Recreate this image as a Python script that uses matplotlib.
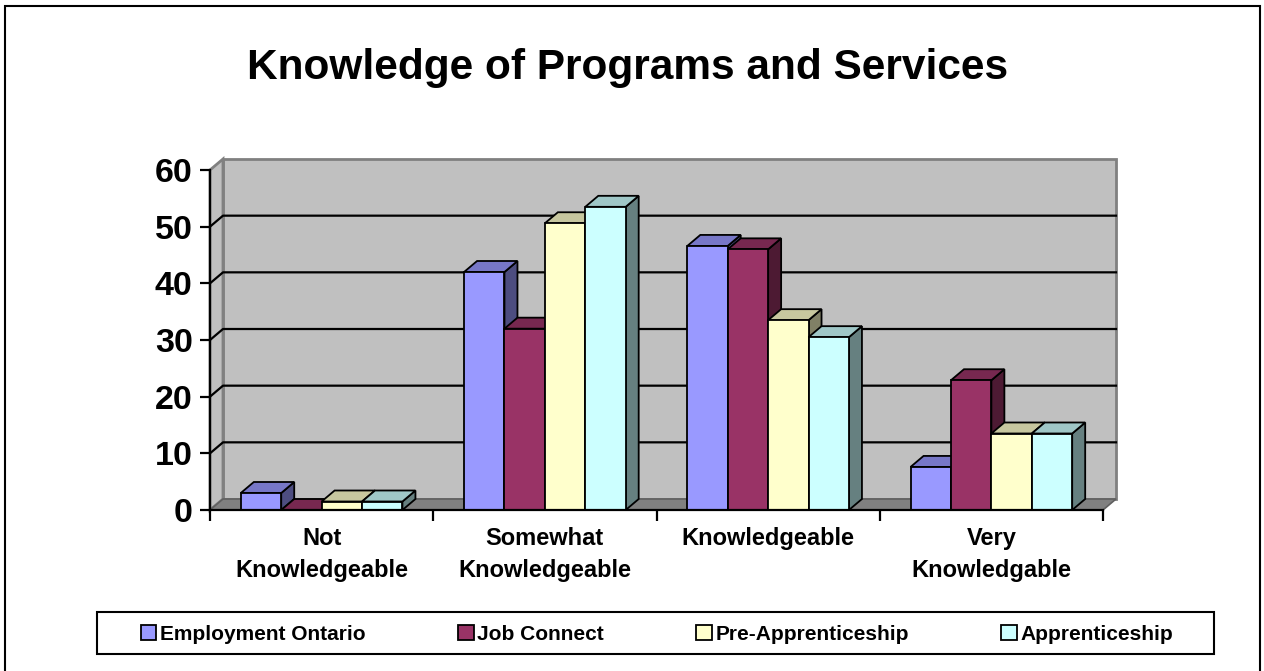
import matplotlib.pyplot as plt
from matplotlib.patches import Polygon, Rectangle, Patch
from matplotlib.colors import to_rgb

plt.rcParams['font.family'] = ['Liberation Sans', 'DejaVu Sans']
plt.rcParams['font.weight'] = 'bold'

categories = ['Not\nKnowledgeable', 'Somewhat\nKnowledgeable', 'Knowledgeable', 'Very\nKnowledgable']
series_names = ['Employment Ontario', 'Job Connect', 'Pre-Apprenticeship', 'Apprenticeship']
employment_ontario = [3.0, 42.0, 46.6, 7.6]
job_connect = [0.0, 32.0, 46.0, 22.9]
pre_apprenticeship = [1.5, 50.6, 33.5, 13.5]
apprenticeship = [1.5, 53.5, 30.5, 13.5]
y_ticks = [0, 10, 20, 30, 40, 50, 60]

series = [employment_ontario, job_connect, pre_apprenticeship, apprenticeship]
front_colors = ['#9999FF', '#993366', '#FFFFCC', '#CCFFFF']

W, H = 1264, 671


def shade(c, f):
    r, g, b = to_rgb(c)
    return (r * f, g * f, b * f)


fig = plt.figure(figsize=(W / 100, H / 100), dpi=100)
ax = fig.add_axes([210 / W, 161 / H, 893 / W, 340 / H])
ax.set_xlim(0, len(categories))
ax.set_ylim(0, 60)
ax.patch.set_alpha(0)

# depth of the 3d effect, pixels -> data units
ddx = 13 / (893 / len(categories))
ddy = 11 / (340 / 60)
top = y_ticks[-1]
n = len(categories)

# back wall, side wall, floor
ax.add_patch(Polygon([(ddx, ddy), (n + ddx, ddy), (n + ddx, top + ddy), (ddx, top + ddy)],
                     facecolor='#C0C0C0', edgecolor='#808080', lw=2, clip_on=False, zorder=0))
ax.add_patch(Polygon([(0, 0), (ddx, ddy), (ddx, top + ddy), (0, top)],
                     facecolor='#C0C0C0', edgecolor='#808080', lw=2, clip_on=False, zorder=0))
ax.add_patch(Polygon([(0, 0), (n, 0), (n + ddx, ddy), (ddx, ddy)],
                     facecolor='#808080', edgecolor='#606060', lw=1.2, clip_on=False, zorder=0.5))
for v in y_ticks[1:-1]:
    ax.plot([0, ddx, n + ddx], [v, v + ddy, v + ddy], color='black', lw=1.6, zorder=0.6, clip_on=False)

# bars
bw = 0.181
for i in range(n):
    x_start = i + 0.5 - bw * len(series) / 2
    for j, vals in enumerate(series):
        h = vals[i]
        x0 = x_start + j * bw
        c = front_colors[j]
        ax.add_patch(Polygon([(x0 + bw, 0), (x0 + bw + ddx, ddy), (x0 + bw + ddx, h + ddy), (x0 + bw, h)],
                             facecolor=shade(c, 0.5), edgecolor='black', lw=1.3, clip_on=False, zorder=2))
        ax.add_patch(Polygon([(x0, h), (x0 + bw, h), (x0 + bw + ddx, h + ddy), (x0 + ddx, h + ddy)],
                             facecolor=shade(c, 0.78), edgecolor='black', lw=1.3, clip_on=False, zorder=2))
        ax.add_patch(Rectangle((x0, 0), bw, h, facecolor=c, edgecolor='black', lw=1.3,
                               clip_on=False, zorder=2))

for s in ['top', 'right']:
    ax.spines[s].set_visible(False)
for s in ['left', 'bottom']:
    ax.spines[s].set_linewidth(1.6)
    ax.spines[s].set_zorder(3)

ax.set_yticks(y_ticks)
ax.set_yticklabels([str(v) for v in y_ticks], fontsize=24.5, fontweight='bold')
ax.tick_params(axis='y', length=7, width=1.6, pad=5.5)

ax.set_xticks(range(n + 1))
ax.set_xticklabels([''] * (n + 1))
ax.tick_params(axis='x', which='major', length=8, width=1.6)
ax.set_xticks([i + 0.5 for i in range(n)], minor=True)
ax.set_xticklabels(categories, minor=True, fontsize=17, fontweight='bold', linespacing=1.47)
ax.tick_params(axis='x', which='minor', length=0, pad=12.5)

fig.text(628 / W, 1 - 68 / H, 'Knowledge of Programs and Services', ha='center', va='center',
         fontsize=30.5, fontweight='bold')

# legend with its own box
handles = [Patch(facecolor=c, edgecolor='black', lw=1.3) for c in front_colors]
fig.legend(handles, series_names, loc='center', bbox_to_anchor=(657 / W, 1 - 634 / H), ncol=4,
           frameon=False, prop={'size': 15, 'weight': 'bold'}, handlelength=0.75, handleheight=0.75,
           handletextpad=0.18, columnspacing=4.42, borderaxespad=0)
fig.add_artist(Rectangle((97 / W, 1 - 654 / H), 1117 / W, 42 / H, transform=fig.transFigure,
                         facecolor='none', edgecolor='black', lw=1.5))
fig.add_artist(Rectangle((5 / W, -0.05), 1255 / W, 1.05 - 6 / H, transform=fig.transFigure,
                         facecolor='none', edgecolor='black', lw=1.5, clip_on=False))

fig.savefig('out.png', dpi=100)
